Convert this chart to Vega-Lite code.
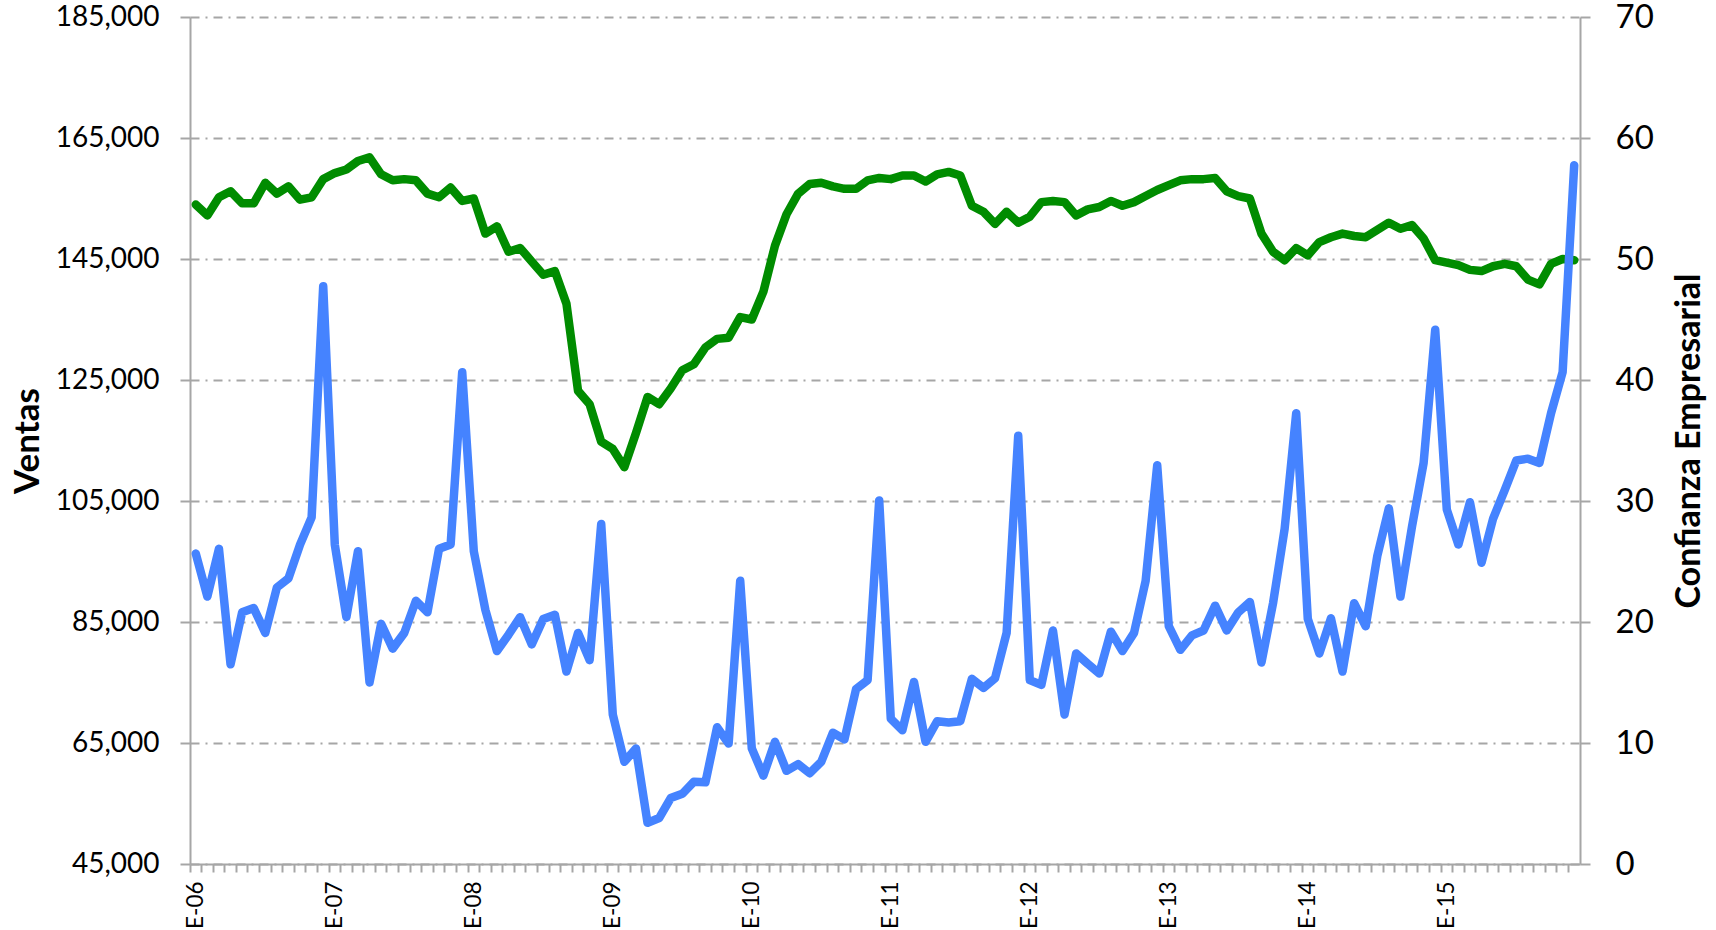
{
  "$schema": "https://vega.github.io/schema/vega-lite/v6.json",
  "width": 1390,
  "height": 847,
  "autosize": "none",
  "padding": {"left": 190, "top": 17, "right": 136, "bottom": 66},
  "background": "white",
  "config": {"view": {"stroke": null}, "font": "Lato"},
  "data": {"values": [
    {"mes": "2006-01", "ventas": 96300, "confianza": 54.5},
    {"mes": "2006-02", "ventas": 89200, "confianza": 53.6},
    {"mes": "2006-03", "ventas": 97100, "confianza": 55.1},
    {"mes": "2006-04", "ventas": 78000, "confianza": 55.6},
    {"mes": "2006-05", "ventas": 86600, "confianza": 54.6},
    {"mes": "2006-06", "ventas": 87300, "confianza": 54.6},
    {"mes": "2006-07", "ventas": 83200, "confianza": 56.3},
    {"mes": "2006-08", "ventas": 90700, "confianza": 55.4},
    {"mes": "2006-09", "ventas": 92200, "confianza": 56.0},
    {"mes": "2006-10", "ventas": 97800, "confianza": 54.9},
    {"mes": "2006-11", "ventas": 102300, "confianza": 55.1},
    {"mes": "2006-12", "ventas": 140500, "confianza": 56.6},
    {"mes": "2007-01", "ventas": 97800, "confianza": 57.1},
    {"mes": "2007-02", "ventas": 85800, "confianza": 57.4},
    {"mes": "2007-03", "ventas": 96700, "confianza": 58.1},
    {"mes": "2007-04", "ventas": 75000, "confianza": 58.4},
    {"mes": "2007-05", "ventas": 84700, "confianza": 57.0},
    {"mes": "2007-06", "ventas": 80600, "confianza": 56.5},
    {"mes": "2007-07", "ventas": 83200, "confianza": 56.6},
    {"mes": "2007-08", "ventas": 88500, "confianza": 56.5},
    {"mes": "2007-09", "ventas": 86600, "confianza": 55.4},
    {"mes": "2007-10", "ventas": 97100, "confianza": 55.1},
    {"mes": "2007-11", "ventas": 97800, "confianza": 55.9},
    {"mes": "2007-12", "ventas": 126300, "confianza": 54.8},
    {"mes": "2008-01", "ventas": 96700, "confianza": 55.0},
    {"mes": "2008-02", "ventas": 87000, "confianza": 52.1},
    {"mes": "2008-03", "ventas": 80200, "confianza": 52.7},
    {"mes": "2008-04", "ventas": 82900, "confianza": 50.6},
    {"mes": "2008-05", "ventas": 85800, "confianza": 50.9},
    {"mes": "2008-06", "ventas": 81300, "confianza": 49.8},
    {"mes": "2008-07", "ventas": 85500, "confianza": 48.7},
    {"mes": "2008-08", "ventas": 86200, "confianza": 49.0},
    {"mes": "2008-09", "ventas": 76800, "confianza": 46.3},
    {"mes": "2008-10", "ventas": 83200, "confianza": 39.1},
    {"mes": "2008-11", "ventas": 78700, "confianza": 38.0},
    {"mes": "2008-12", "ventas": 101200, "confianza": 34.9},
    {"mes": "2009-01", "ventas": 69700, "confianza": 34.3},
    {"mes": "2009-02", "ventas": 61900, "confianza": 32.8},
    {"mes": "2009-03", "ventas": 64100, "confianza": 35.6},
    {"mes": "2009-04", "ventas": 51800, "confianza": 38.6},
    {"mes": "2009-05", "ventas": 52600, "confianza": 38.0},
    {"mes": "2009-06", "ventas": 55900, "confianza": 39.3},
    {"mes": "2009-07", "ventas": 56600, "confianza": 40.8},
    {"mes": "2009-08", "ventas": 58600, "confianza": 41.3},
    {"mes": "2009-09", "ventas": 58500, "confianza": 42.7},
    {"mes": "2009-10", "ventas": 67600, "confianza": 43.4},
    {"mes": "2009-11", "ventas": 64900, "confianza": 43.5},
    {"mes": "2009-12", "ventas": 91800, "confianza": 45.2},
    {"mes": "2010-01", "ventas": 64100, "confianza": 45.0},
    {"mes": "2010-02", "ventas": 59600, "confianza": 47.3},
    {"mes": "2010-03", "ventas": 65200, "confianza": 51.1},
    {"mes": "2010-04", "ventas": 60400, "confianza": 53.7},
    {"mes": "2010-05", "ventas": 61500, "confianza": 55.4},
    {"mes": "2010-06", "ventas": 60000, "confianza": 56.2},
    {"mes": "2010-07", "ventas": 61900, "confianza": 56.3},
    {"mes": "2010-08", "ventas": 66700, "confianza": 56.0},
    {"mes": "2010-09", "ventas": 65600, "confianza": 55.8},
    {"mes": "2010-10", "ventas": 73900, "confianza": 55.8},
    {"mes": "2010-11", "ventas": 75400, "confianza": 56.5},
    {"mes": "2010-12", "ventas": 105100, "confianza": 56.7},
    {"mes": "2011-01", "ventas": 69000, "confianza": 56.6},
    {"mes": "2011-02", "ventas": 67100, "confianza": 56.9},
    {"mes": "2011-03", "ventas": 75100, "confianza": 56.9},
    {"mes": "2011-04", "ventas": 65200, "confianza": 56.4},
    {"mes": "2011-05", "ventas": 68600, "confianza": 57.0},
    {"mes": "2011-06", "ventas": 68400, "confianza": 57.2},
    {"mes": "2011-07", "ventas": 68600, "confianza": 56.9},
    {"mes": "2011-08", "ventas": 75600, "confianza": 54.4},
    {"mes": "2011-09", "ventas": 74100, "confianza": 53.9},
    {"mes": "2011-10", "ventas": 75700, "confianza": 52.9},
    {"mes": "2011-11", "ventas": 83200, "confianza": 53.9},
    {"mes": "2011-12", "ventas": 115800, "confianza": 53.0},
    {"mes": "2012-01", "ventas": 75400, "confianza": 53.5},
    {"mes": "2012-02", "ventas": 74600, "confianza": 54.7},
    {"mes": "2012-03", "ventas": 83600, "confianza": 54.8},
    {"mes": "2012-04", "ventas": 69700, "confianza": 54.7},
    {"mes": "2012-05", "ventas": 79800, "confianza": 53.6},
    {"mes": "2012-06", "ventas": 78100, "confianza": 54.1},
    {"mes": "2012-07", "ventas": 76500, "confianza": 54.3},
    {"mes": "2012-08", "ventas": 83400, "confianza": 54.8},
    {"mes": "2012-09", "ventas": 80200, "confianza": 54.4},
    {"mes": "2012-10", "ventas": 83200, "confianza": 54.7},
    {"mes": "2012-11", "ventas": 91800, "confianza": 55.2},
    {"mes": "2012-12", "ventas": 110900, "confianza": 55.7},
    {"mes": "2013-01", "ventas": 84300, "confianza": 56.1},
    {"mes": "2013-02", "ventas": 80400, "confianza": 56.5},
    {"mes": "2013-03", "ventas": 82800, "confianza": 56.6},
    {"mes": "2013-04", "ventas": 83600, "confianza": 56.6},
    {"mes": "2013-05", "ventas": 87700, "confianza": 56.7},
    {"mes": "2013-06", "ventas": 83600, "confianza": 55.6},
    {"mes": "2013-07", "ventas": 86600, "confianza": 55.2},
    {"mes": "2013-08", "ventas": 88300, "confianza": 55.0},
    {"mes": "2013-09", "ventas": 78300, "confianza": 52.1},
    {"mes": "2013-10", "ventas": 88100, "confianza": 50.6},
    {"mes": "2013-11", "ventas": 100400, "confianza": 49.9},
    {"mes": "2013-12", "ventas": 119500, "confianza": 50.9},
    {"mes": "2014-01", "ventas": 85500, "confianza": 50.3},
    {"mes": "2014-02", "ventas": 79800, "confianza": 51.4},
    {"mes": "2014-03", "ventas": 85600, "confianza": 51.8},
    {"mes": "2014-04", "ventas": 76800, "confianza": 52.1},
    {"mes": "2014-05", "ventas": 88100, "confianza": 51.9},
    {"mes": "2014-06", "ventas": 84300, "confianza": 51.8},
    {"mes": "2014-07", "ventas": 95900, "confianza": 52.4},
    {"mes": "2014-08", "ventas": 103800, "confianza": 53.0},
    {"mes": "2014-09", "ventas": 89200, "confianza": 52.5},
    {"mes": "2014-10", "ventas": 100800, "confianza": 52.8},
    {"mes": "2014-11", "ventas": 111300, "confianza": 51.7},
    {"mes": "2014-12", "ventas": 133300, "confianza": 49.9},
    {"mes": "2015-01", "ventas": 103600, "confianza": 49.7},
    {"mes": "2015-02", "ventas": 97800, "confianza": 49.5},
    {"mes": "2015-03", "ventas": 104800, "confianza": 49.1},
    {"mes": "2015-04", "ventas": 94800, "confianza": 49.0},
    {"mes": "2015-05", "ventas": 102100, "confianza": 49.4},
    {"mes": "2015-06", "ventas": 106800, "confianza": 49.6},
    {"mes": "2015-07", "ventas": 111700, "confianza": 49.4},
    {"mes": "2015-08", "ventas": 112000, "confianza": 48.3},
    {"mes": "2015-09", "ventas": 111300, "confianza": 47.9},
    {"mes": "2015-10", "ventas": 119500, "confianza": 49.6},
    {"mes": "2015-11", "ventas": 126300, "confianza": 50.0},
    {"mes": "2015-12", "ventas": 160500, "confianza": 49.9}
  ]},
  "encoding": {
    "x": {
      "field": "mes",
      "type": "ordinal",
      "bandPosition": 0.5,
      "scale": {"type": "band", "paddingInner": 0, "paddingOuter": 0},
      "axis": {
        "orient": "bottom",
        "title": null,
        "grid": false,
        "bandPosition": 0,
        "labelAngle": 270,
        "labelAlign": "right",
        "labelBaseline": "middle",
        "labelExpr": "substring(datum.value,5,7)=='01' ? 'E-' + substring(datum.value,2,4) : ''",
        "labelOverlap": false,
        "labelFont": "Lato",
        "labelFontSize": 22.5,
        "labelColor": "black",
        "labelPadding": 9,
        "tickSize": 8,
        "tickWidth": 2,
        "tickColor": "#A6A6A6",
        "domainColor": "#A6A6A6",
        "domainWidth": 2
      }
    }
  },
  "layer": [
    {
      "mark": {"type": "line", "color": "#008C00", "strokeWidth": 8.5, "strokeCap": "round", "strokeJoin": "round"},
      "encoding": {
        "y": {
          "field": "confianza",
          "type": "quantitative",
          "scale": {"domain": [0, 70], "nice": false, "zero": false},
          "axis": {
            "orient": "right",
            "values": [0, 10, 20, 30, 40, 50, 60, 70],
            "grid": false,
            "domainColor": "#A6A6A6",
            "domainWidth": 2,
            "tickColor": "#A6A6A6",
            "tickWidth": 2,
            "tickSize": 10,
            "labelFont": "Lato",
            "labelFontSize": 33,
            "labelColor": "black",
            "labelPadding": 25,
            "title": "Confianza Empresarial",
            "titleFont": "Lato",
            "titleFontSize": 34,
            "titleFontWeight": "bold",
            "titleColor": "black",
            "titleAngle": 270,
            "titleAlign": "center",
            "titleBaseline": "middle",
            "titleX": 109,
            "titleY": 423.5
          }
        }
      }
    },
    {
      "mark": {"type": "line", "color": "#4583FF", "strokeWidth": 8.5, "strokeCap": "round", "strokeJoin": "round"},
      "encoding": {
        "y": {
          "field": "ventas",
          "type": "quantitative",
          "scale": {"domain": [45000, 185000], "nice": false, "zero": false},
          "axis": {
            "orient": "left",
            "values": [45000, 65000, 85000, 105000, 125000, 145000, 165000, 185000],
            "format": ",.0f",
            "grid": true,
            "gridColor": "#A6A6A6",
            "gridDash": [9, 6, 2, 6],
            "gridWidth": 2,
            "domainColor": "#A6A6A6",
            "domainWidth": 2,
            "tickColor": "#A6A6A6",
            "tickWidth": 2,
            "tickSize": 10,
            "labelFont": "Lato",
            "labelFontSize": 28,
            "labelColor": "black",
            "labelPadding": 21,
            "title": "Ventas",
            "titleFont": "Lato",
            "titleFontSize": 35,
            "titleFontWeight": "bold",
            "titleColor": "black",
            "titleAngle": 270,
            "titleAlign": "center",
            "titleBaseline": "middle",
            "titleX": -163,
            "titleY": 423.5
          }
        }
      }
    }
  ],
  "resolve": {"scale": {"y": "independent"}}
}
